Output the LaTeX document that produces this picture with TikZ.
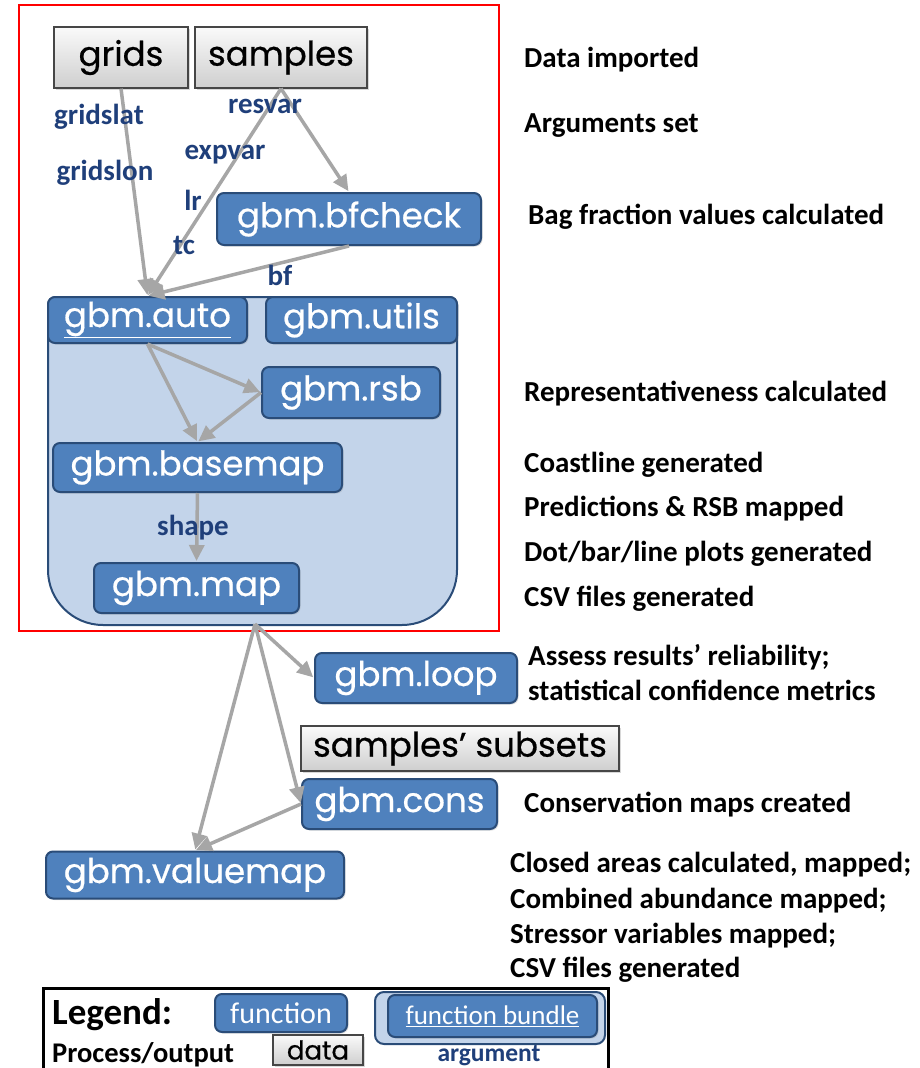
\documentclass[tikz,border=0pt]{standalone}
\usepackage{fontspec}
\setmainfont{Carlito}
\newfontfamily\gothic[FakeBold=0.6]{Poppins}
\usetikzlibrary{arrows.meta,shadows}
\definecolor{fnfill}{HTML}{4F81BD}
\definecolor{fnborder}{HTML}{2A4C78}
\definecolor{bundlefill}{HTML}{C3D4EA}
\definecolor{argblue}{HTML}{1F3F7A}
\definecolor{arrowgray}{HTML}{A6A6A6}
\tikzset{
  fnbox/.style={draw=fnborder, fill=fnfill, line width=2pt, rounded corners=7pt,
    text=white, font=\gothic\fontsize{34}{36}\selectfont, inner sep=0pt,
    drop shadow={opacity=0.25, shadow xshift=1.5pt, shadow yshift=-1.5pt}},
  databox/.style={draw=gray!55!black, line width=1.3pt, top color=gray!4, bottom color=gray!38,
    font=\gothic\fontsize{34}{36}\selectfont, inner sep=0pt,
    drop shadow={opacity=0.3, shadow xshift=2pt, shadow yshift=-2pt}},
  arglbl/.style={text=argblue, font=\bfseries\fontsize{29}{31}\selectfont, inner sep=0pt},
  desc/.style={anchor=west, font=\bfseries\fontsize{29}{31}\selectfont, inner sep=0pt},
  flow/.style={draw=arrowgray, line width=3.5pt, -{Triangle[length=16pt,width=15pt]}, shorten >=1pt}
}
\begin{document}
\begin{tikzpicture}[x=1pt,y=-1pt]
\useasboundingbox (0,0) rectangle (919,1068);
\clip (0,0) rectangle (919,1068);
\fill[white] (0,0) rectangle (919,1068);

% red frame
\draw[red, line width=2.5pt] (19,5) rectangle (499,631);

% bundle background
\draw[fnborder, fill=bundlefill, line width=2pt]
  (250,297) [rounded corners=8] -- (457,297) [rounded corners=55] -- (457,625) -- (48,625) [rounded corners=8] -- (48,297) -- cycle;

% data boxes
\node[databox, minimum width=134pt, minimum height=61pt] (grids) at (121,57.5) {grids};
\node[databox, minimum width=172pt, minimum height=61pt] (samples) at (281,57.5) {samples};

% functions
\node[fnbox, minimum width=264pt, minimum height=52pt] (bfcheck) at (349,219) {gbm.bfcheck};
\node[fnbox, minimum width=199pt, minimum height=46pt] (auto) at (147.5,320) {\underline{gbm.auto}};
\node[fnbox, minimum width=191pt, minimum height=46pt] (utils) at (361.5,320) {gbm.utils};
\node[fnbox, minimum width=178pt, minimum height=51pt] (rsb) at (351,392.5) {gbm.rsb};
\node[fnbox, minimum width=289pt, minimum height=49pt] (basemap) at (197.5,467.5) {gbm.basemap};
\node[fnbox, minimum width=205pt, minimum height=50pt] (map) at (196.5,588) {gbm.map};
\node[fnbox, minimum width=202pt, minimum height=50pt] (loop) at (416,678) {gbm.loop};
\node[databox, minimum width=318pt, minimum height=45pt] (subsets) at (460,748.5) {samples’ subsets};
\node[fnbox, minimum width=195pt, minimum height=50pt] (cons) at (399.5,804) {gbm.cons};
\node[fnbox, minimum width=298pt, minimum height=47pt] (valuemap) at (195,875) {gbm.valuemap};

\coordinate (hub) at (255,624);

% connectors
\draw[flow] (grids.south) -- (auto.north);
\draw[flow] (samples.south) -- (auto.north);
\draw[flow] (samples.south) -- (bfcheck.north);
\draw[flow] (bfcheck.south) -- (auto.north);
\draw[flow] (auto.south) -- (rsb.west);
\draw[flow] (auto.south) -- (basemap.north);
\draw[flow] (rsb.west) -- (basemap.north);
\draw[flow] (basemap.south) -- (map.north);
\draw[flow] (hub) -- (loop.west);
\draw[flow] (hub) -- (cons.west);
\draw[flow] (hub) -- (valuemap.north);
\draw[flow] (cons.west) -- (valuemap.north);

% argument labels
\node[arglbl] (lgridslat) at (99,117) {gridslat};
\node[arglbl] (lgridslon) at (105,173) {gridslon};
\node[arglbl] (lresvar) at (265,106) {resvar};
\node[arglbl] (lexpvar) at (225,155) {expvar};
\node[arglbl] (llr) at (193,200) {lr};
\node[arglbl] (ltc) at (184,245) {tc};
\node[arglbl] (lbf) at (280,275) {bf};
\node[arglbl] (lshape) at (193,528) {shape};

% descriptions
\node[desc] (d1) at (524,60) {Data imported};
\node[desc] (d2) at (524,126) {Arguments set};
\node[desc] (d3) at (528,217) {Bag fraction values calculated};
\node[desc] (d4) at (524,394) {Representativeness calculated};
\node[desc] (d5) at (524,465) {Coastline generated};
\node[desc] (d6) at (524,509) {Predictions \& RSB mapped};
\node[desc] (d7) at (524,554) {Dot/bar/line plots generated};
\node[desc] (d8) at (524,599) {CSV files generated};
\node[desc] (d9) at (528,657) {Assess results’ reliability;};
\node[desc] (d10) at (528,690) {statistical confidence metrics};
\node[desc] (d11) at (524,805) {Conservation maps created};
\node[desc] (d12) at (510,865) {Closed areas calculated, mapped;};
\node[desc] (d13) at (510,901) {Combined abundance mapped;};
\node[desc] (d14) at (510,936) {Stressor variables mapped;};
\node[desc] (d15) at (510,970) {CSV files generated};

% legend
\draw[black, line width=3pt] (43,988) rectangle (608,1100);
\node[anchor=base west, font=\bfseries\fontsize{37}{39}\selectfont, inner sep=0pt] (legtitle) at (52,1024) {Legend:};
\node[anchor=base west, font=\bfseries\fontsize{28.5}{30}\selectfont, inner sep=0pt] (legproc) at (52,1062) {Process/output};
\node[fnbox, font=\fontsize{30}{32}\selectfont, minimum width=132pt, minimum height=38pt] (legfn) at (281,1013) {function};
\node[draw=fnborder, fill=bundlefill, line width=2pt, rounded corners=9pt, minimum width=230pt, minimum height=52pt] (legbundleouter) at (490,1018) {};
\node[fnbox, font=\fontsize{27}{29}\selectfont, minimum width=209pt, minimum height=42pt, drop shadow={opacity=0}] (legbundle) at (492.5,1016) {\underline{function bundle}};
\node[databox, font=\gothic\fontsize{26}{28}\selectfont, minimum width=90pt, minimum height=30pt, drop shadow={opacity=0.3, shadow xshift=1pt, shadow yshift=-1pt}] (legdata) at (318,1050) {data};
\node[arglbl, font=\bfseries\fontsize{25.5}{27}\selectfont] (legarg) at (489,1056) {argument};
\end{tikzpicture}
\end{document}
